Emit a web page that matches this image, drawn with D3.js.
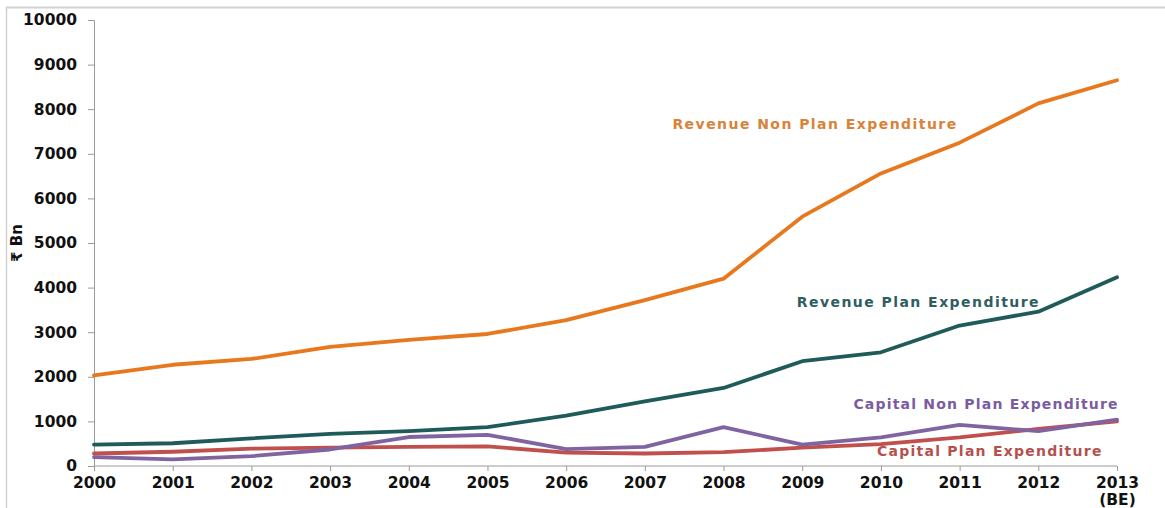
<!DOCTYPE html>
<html>
<head>
<meta charset="utf-8">
<script src="https://cdn.jsdelivr.net/npm/d3@7"></script>
<style>
  html, body { margin: 0; padding: 0; background: #fff; }
  svg { display: block; }
  text { font-family: "DejaVu Sans", "Liberation Sans", sans-serif; font-weight: bold; }
</style>
</head>
<body>
<svg id="chart" width="1165" height="508"></svg>
<script>
// ---- data ----
const years = [2000, 2001, 2002, 2003, 2004, 2005, 2006, 2007, 2008, 2009, 2010, 2011, 2012, 2013];
const yearLabels = ["2000", "2001", "2002", "2003", "2004", "2005", "2006", "2007", "2008", "2009", "2010", "2011", "2012", "2013\n(BE)"];
const revenueNonPlan = [2030, 2270, 2400, 2670, 2830, 2960, 3270, 3720, 4200, 5590, 6560, 7250, 8130, 8650];
const revenuePlan    = [480, 510, 620, 720, 780, 870, 1130, 1450, 1750, 2350, 2550, 3150, 3460, 4230];
const capitalNonPlan = [200, 150, 220, 370, 650, 700, 380, 430, 870, 480, 640, 920, 780, 1040];
const capitalPlan    = [280, 320, 390, 410, 430, 440, 300, 280, 310, 410, 490, 640, 830, 1000];
const yTicks = [0, 1000, 2000, 3000, 4000, 5000, 6000, 7000, 8000, 9000, 10000];
const seriesNames = ["Revenue Non Plan Expenditure", "Revenue Plan Expenditure", "Capital Non Plan Expenditure", "Capital Plan Expenditure"];
// label anchors in data space (year, value)
const labelYears  = [2007.35, 2008.93, 2009.65, 2009.95];
const labelValues = [7650, 3660, 1370, 320];

// ---- layout / style ----
const colors = ["#E8781E", "#1E5B5A", "#8064A2", "#C0504D"];
const labelColors = ["#D9823A", "#2E5E5F", "#7A5CA0", "#B5504E"];
const labelSpacing = [1.45, 1.45, 1.2, 1.25];
const svg = d3.select("#chart");
const x = d3.scaleLinear().domain([2000, 2013]).range([94, 1117]);
const y = d3.scaleLinear().domain([0, 10000]).range([466, 20]);

// frame
svg.append("line").attr("x1", 6).attr("x2", 1165).attr("y1", 7.5).attr("y2", 7.5)
  .attr("stroke", "#d2d2d2").attr("stroke-width", 2);
svg.append("line").attr("x1", 6.5).attr("x2", 6.5).attr("y1", 7).attr("y2", 508)
  .attr("stroke", "#d2d2d2").attr("stroke-width", 1.5);

// y axis
const yAxis = svg.append("g").attr("transform", `translate(${x(2000)},0)`)
  .call(d3.axisLeft(y).tickValues(yTicks).tickSize(6).tickPadding(11).tickFormat(d3.format("d")));
yAxis.selectAll("path, line").attr("stroke", "#9a9a9a");
yAxis.selectAll("text").attr("font-size", 15.5).attr("fill", "#111")
  .style("font-family", '"DejaVu Sans", sans-serif').style("font-weight", "bold");

// x axis
const xAxis = svg.append("g").attr("transform", `translate(0,${y(0)})`)
  .call(d3.axisBottom(x).tickValues(years).tickSize(5).tickFormat(""));
xAxis.selectAll("path, line").attr("stroke", "#9a9a9a");
xAxis.select("path").attr("d", `M${x(2000)},0H${x(2013)}`);
xAxis.selectAll(".tick").each(function(d, i) {
  const parts = yearLabels[i].split("\n");
  const t = d3.select(this).append("text").attr("text-anchor", "middle")
    .attr("fill", "#111").attr("font-size", 15.5).attr("y", 22)
    .style("font-family", '"DejaVu Sans", sans-serif').style("font-weight", "bold");
  parts.forEach((p, k) => t.append("tspan").attr("x", 0).attr("dy", k === 0 ? 0 : 17).text(p));
});

// y title
svg.append("text").attr("transform", `translate(22,${y(5000)}) rotate(-90)`)
  .attr("text-anchor", "middle").attr("font-size", 15).attr("fill", "#111").text("₹ Bn");

// lines
const allSeries = [revenueNonPlan, revenuePlan, capitalNonPlan, capitalPlan];
const line = d3.line().x((d, i) => x(years[i])).y(d => y(d));
[3, 2, 1, 0].forEach(s => {
  svg.append("path").datum(allSeries[s]).attr("d", line)
    .attr("fill", "none").attr("stroke", colors[s]).attr("stroke-width", 3.8)
    .attr("stroke-linejoin", "round").attr("stroke-linecap", "round");
});

// labels
seriesNames.forEach((n, s) => {
  svg.append("text").attr("x", x(labelYears[s])).attr("y", y(labelValues[s]))
    .attr("dominant-baseline", "middle").attr("font-size", 14)
    .attr("letter-spacing", labelSpacing[s]).attr("fill", labelColors[s]).text(n);
});
</script>
</body>
</html>
